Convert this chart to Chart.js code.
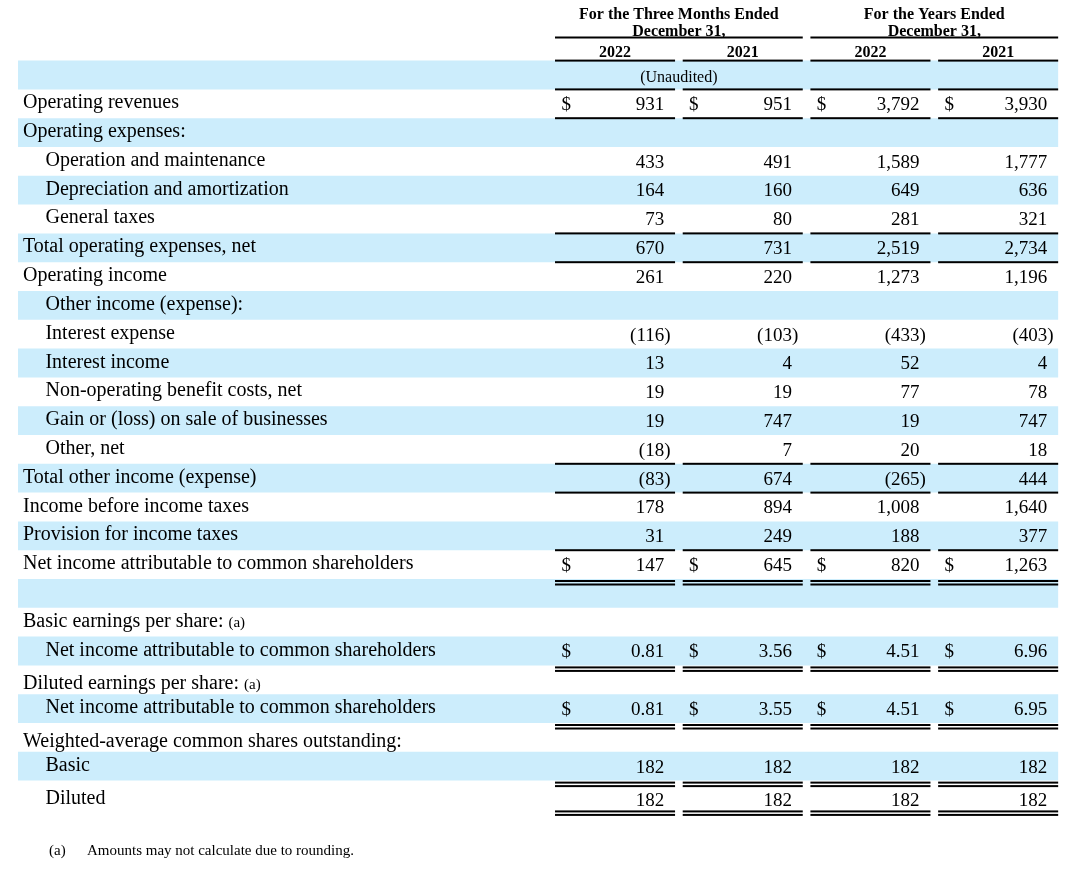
<!DOCTYPE html>
<html>
<head>
<meta charset="utf-8">
<script src="https://cdn.jsdelivr.net/npm/chart.js@4.4.1/dist/chart.umd.min.js"></script>
<style>
  body { margin: 0; background: #fff; }
</style>
</head>
<body>
<canvas id="myChart" width="1074" height="869"></canvas>
<script>
// row labels, top to bottom (row 0 is the "(Unaudited)" row)
const rowLabels = [
  '',
  'Operating revenues',
  'Operating expenses:',
  'Operation and maintenance',
  'Depreciation and amortization',
  'General taxes',
  'Total operating expenses, net',
  'Operating income',
  'Other income (expense):',
  'Interest expense',
  'Interest income',
  'Non-operating benefit costs, net',
  'Gain or (loss) on sale of businesses',
  'Other, net',
  'Total other income (expense)',
  'Income before income taxes',
  'Provision for income taxes',
  'Net income attributable to common shareholders',
  '',
  'Basic earnings per share:',
  'Net income attributable to common shareholders',
  'Diluted earnings per share:',
  'Net income attributable to common shareholders',
  'Weighted-average common shares outstanding:',
  'Basic',
  'Diluted'
]
const indentedRows = [3, 4, 5, 8, 9, 10, 11, 12, 13, 20, 22, 24, 25]
const footnoteRows = [19, 21]
// rows whose text sits a little low in the cell
const lowRows = [21, 23, 25]

const periodHeaders = ['For the Three Months Ended', 'For the Years Ended']
const yearLabels = ['2022', '2021', '2022', '2021']

// values per column, null where the cell is empty
const q4_2022 = [null, 931, null, 433, 164, 73, 670, 261, null, -116, 13, 19, 19, -18, -83, 178, 31, 147, null, null, 0.81, null, 0.81, null, 182, 182]
const q4_2021 = [null, 951, null, 491, 160, 80, 731, 220, null, -103, 4, 19, 747, 7, 674, 894, 249, 645, null, null, 3.56, null, 3.55, null, 182, 182]
const fy_2022 = [null, 3792, null, 1589, 649, 281, 2519, 1273, null, -433, 52, 77, 19, 20, -265, 1008, 188, 820, null, null, 4.51, null, 4.51, null, 182, 182]
const fy_2021 = [null, 3930, null, 1777, 636, 321, 2734, 1196, null, -403, 4, 78, 747, 18, 444, 1640, 377, 1263, null, null, 6.96, null, 6.95, null, 182, 182]
const columns = [q4_2022, q4_2021, fy_2022, fy_2021]

const dollarRows = [1, 17, 20, 22]
const perShareRows = [20, 22]
const bandRows = [0, 2, 4, 6, 8, 10, 12, 14, 16, 18, 20, 22, 24]
const singleRules = [-1, 0, 1, 5, 6, 13, 14, 16]
const doubleRules = [17, 20, 22, 24, 25]

const footnote = ['(a)', 'Amounts may not calculate due to rounding.']

// x units: one unit = one value column; y units: one unit = one row
const LABEL_X = -3.666
const INDENT_X = -3.49
const BAND = [-3.705, 4.44]
const SERIF = '"Liberation Serif", "Times New Roman", serif'

function fmt(v, row) {
  const dec = perShareRows.includes(row) ? 2 : 0
  return Math.abs(v).toLocaleString('en-US', { minimumFractionDigits: dec, maximumFractionDigits: dec })
}

const tablePlugin = {
  id: 'table',
  afterDatasetsDraw(chart) {
    const { ctx, scales: { x, y } } = chart
    const px = v => x.getPixelForValue(v)
    const py = v => y.getPixelForValue(v)
    const textRow = r => r + (lowRows.includes(r) ? 0.17 : 0)
    ctx.save()
    ctx.fillStyle = '#000'

    // headers
    ctx.font = 'bold 16px ' + SERIF
    ctx.textAlign = 'center'
    ctx.textBaseline = 'alphabetic'
    periodHeaders.forEach((h, i) => {
      const cx = (px(1 + 2 * i - 0.5) + px(2 + 2 * i + 0.44)) / 2
      ctx.fillText(h, cx, py(-1.944))
      ctx.fillText('December 31,', cx, py(-1.337))
      ctx.fillRect(px(1 + 2 * i - 0.5), py(-1.302) - 1, px(2 + 2 * i + 0.44) - px(1 + 2 * i - 0.5), 2)
    })
    yearLabels.forEach((yr, i) => {
      ctx.fillText(yr, (px(i + 0.5) + px(i + 1.44)) / 2, py(-0.625))
    })
    ctx.font = '16px ' + SERIF
    ctx.fillText('(Unaudited)', (px(1.44) + px(1.5)) / 2, py(0.243))

    // row labels
    ctx.textAlign = 'left'
    rowLabels.forEach((label, r) => {
      if (!label) return
      const lx = px(indentedRows.includes(r) ? INDENT_X : LABEL_X)
      const ly = py(textRow(r)) + 4.5
      ctx.font = '20px ' + SERIF
      ctx.fillText(label, lx, ly)
      if (footnoteRows.includes(r)) {
        const w = ctx.measureText(label + ' ').width
        ctx.font = '15px ' + SERIF
        ctx.fillText('(a)', lx + w, ly)
      }
    })

    // values
    ctx.font = '19px ' + SERIF
    columns.forEach((col, c) => {
      const k = c + 1
      col.forEach((v, r) => {
        if (v === null) return
        const ny = py(textRow(r)) + 6.3
        const xr = px(k + 0.355)
        ctx.textAlign = 'right'
        ctx.fillText((v < 0 ? '(' : '') + fmt(v, r), xr, ny)
        if (v < 0) {
          ctx.textAlign = 'left'
          ctx.fillText(')', xr, ny)
        }
        if (dollarRows.includes(r)) {
          ctx.textAlign = 'left'
          ctx.fillText('$', px(k - 0.45), ny)
        }
      })
    })

    // underlines
    for (let k = 1; k <= 4; k++) {
      const x0 = px(k - 0.5)
      const w = px(k + 0.44) - x0
      singleRules.forEach(r => ctx.fillRect(x0, py(r + 0.5) - 1, w, 2))
      doubleRules.forEach(r => {
        ctx.fillRect(x0, py(r + 0.5) + 1, w, 2)
        ctx.fillRect(x0, py(r + 0.5) + 4.5, w, 2)
      })
    }

    // footnote
    ctx.font = '15px ' + SERIF
    ctx.textAlign = 'left'
    ctx.fillText(footnote[0], px(-3.462), py(27.08))
    ctx.fillText(footnote[1], px(-3.165), py(27.08))
    ctx.restore()
  }
}

const ctx = document.getElementById('myChart')

new Chart(ctx, {
  type: 'bar',
  data: {
    datasets: [{
      data: bandRows.map(r => ({ y: r, x: BAND })),
      backgroundColor: '#ccedfc',
      borderWidth: 0,
      categoryPercentage: 1,
      barPercentage: 0.5
    }]
  },
  options: {
    indexAxis: 'y',
    responsive: false,
    animation: false,
    layout: { padding: 0 },
    plugins: {
      legend: { display: false },
      tooltip: { enabled: false }
    },
    scales: {
      x: { type: 'linear', min: -3.846, max: 4.564, offset: false, display: false },
      y: { type: 'linear', min: -2.604, max: 27.569, offset: false, reverse: true, display: false }
    }
  },
  plugins: [tablePlugin]
})
</script>
</body>
</html>
